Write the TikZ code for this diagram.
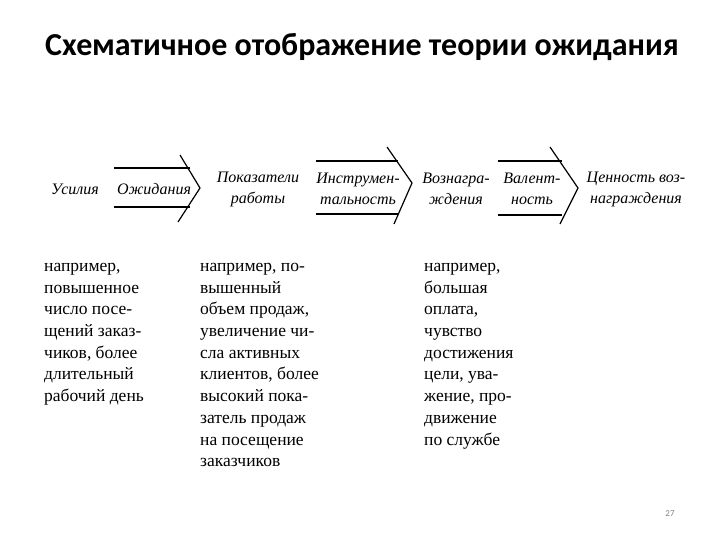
\documentclass[tikz,border=0pt]{standalone}
\usepackage{fontspec}
\setmainfont{Liberation Serif}
\newfontfamily\titlefont{Carlito}
\begin{document}
\begin{tikzpicture}[x=1pt,y=-1pt,
  hdr/.style={font=\itshape\fontsize{16}{21}\selectfont, align=center, inner sep=0pt},
  body/.style={font=\fontsize{17.5}{21.7}\selectfont, align=left, anchor=north west, inner sep=0pt},
  ln/.style={line width=1.5pt},
  chev/.style={line width=1.2pt}]
\useasboundingbox (0,0) rectangle (720,540);
\node[font=\titlefont\bfseries\fontsize{32}{36}\selectfont, anchor=west, inner sep=0pt] (title) at (45,47) {Схематичное отображение теории ожидания};
% arrow 1
\coordinate (a1tl) at (114,168); \coordinate (a1tr) at (190,168);
\coordinate (a1bl) at (114,207); \coordinate (a1br) at (190,207);
\coordinate (a1s) at (180,155); \coordinate (a1t) at (200,188); \coordinate (a1e) at (178,222);
\draw[ln] (a1tl) -- (a1tr); \draw[ln] (a1bl) -- (a1br);
\draw[chev] (a1s) -- (a1t) -- (a1e);
% arrow 2
\coordinate (a2tl) at (316,161); \coordinate (a2tr) at (398,161);
\coordinate (a2bl) at (316,214); \coordinate (a2br) at (398,214);
\coordinate (a2s) at (387,147); \coordinate (a2t) at (412,183); \coordinate (a2e) at (394,224);
\draw[ln] (a2tl) -- (a2tr); \draw[ln] (a2bl) -- (a2br);
\draw[chev] (a2s) -- (a2t) -- (a2e);
% arrow 3
\coordinate (a3tl) at (498,161); \coordinate (a3tr) at (562,161);
\coordinate (a3bl) at (498,215); \coordinate (a3br) at (562,215);
\coordinate (a3s) at (550,147); \coordinate (a3t) at (578,188); \coordinate (a3e) at (560,224);
\draw[ln] (a3tl) -- (a3tr); \draw[ln] (a3bl) -- (a3br);
\draw[chev] (a3s) -- (a3t) -- (a3e);
% header labels
\node[hdr] (us) at (75,189) {Усилия};
\node[hdr] (oz) at (154,189) {Ожидания};
\node[hdr] (pok) at (258,189) {Показатели\\работы};
\node[hdr] (ins) at (358,189) {Инструмен-\\тальность};
\node[hdr] (voz) at (456,189) {Вознагра-\\ждения};
\node[hdr] (val) at (532,189) {Валент-\\ность};
\node[hdr] (cen) at (636,189) {Ценность воз-\\награждения};
% body columns
\node[body] (c1) at (44,263) {например,\\повышенное\\число посе-\\щений заказ-\\чиков, более\\длительный\\рабочий день};
\node[body] (c2) at (200,263) {например, по-\\вышенный\\объем продаж,\\увеличение чи-\\сла активных\\клиентов, более\\высокий пока-\\затель продаж\\на посещение\\заказчиков};
\node[body] (c3) at (424,263) {например,\\большая\\оплата,\\чувство\\достижения\\цели, ува-\\жение, про-\\движение\\по службе};
\node[font=\titlefont\fontsize{9}{10}\selectfont, text=gray, inner sep=0pt] (pg) at (670,514) {27};
\end{tikzpicture}
\end{document}
